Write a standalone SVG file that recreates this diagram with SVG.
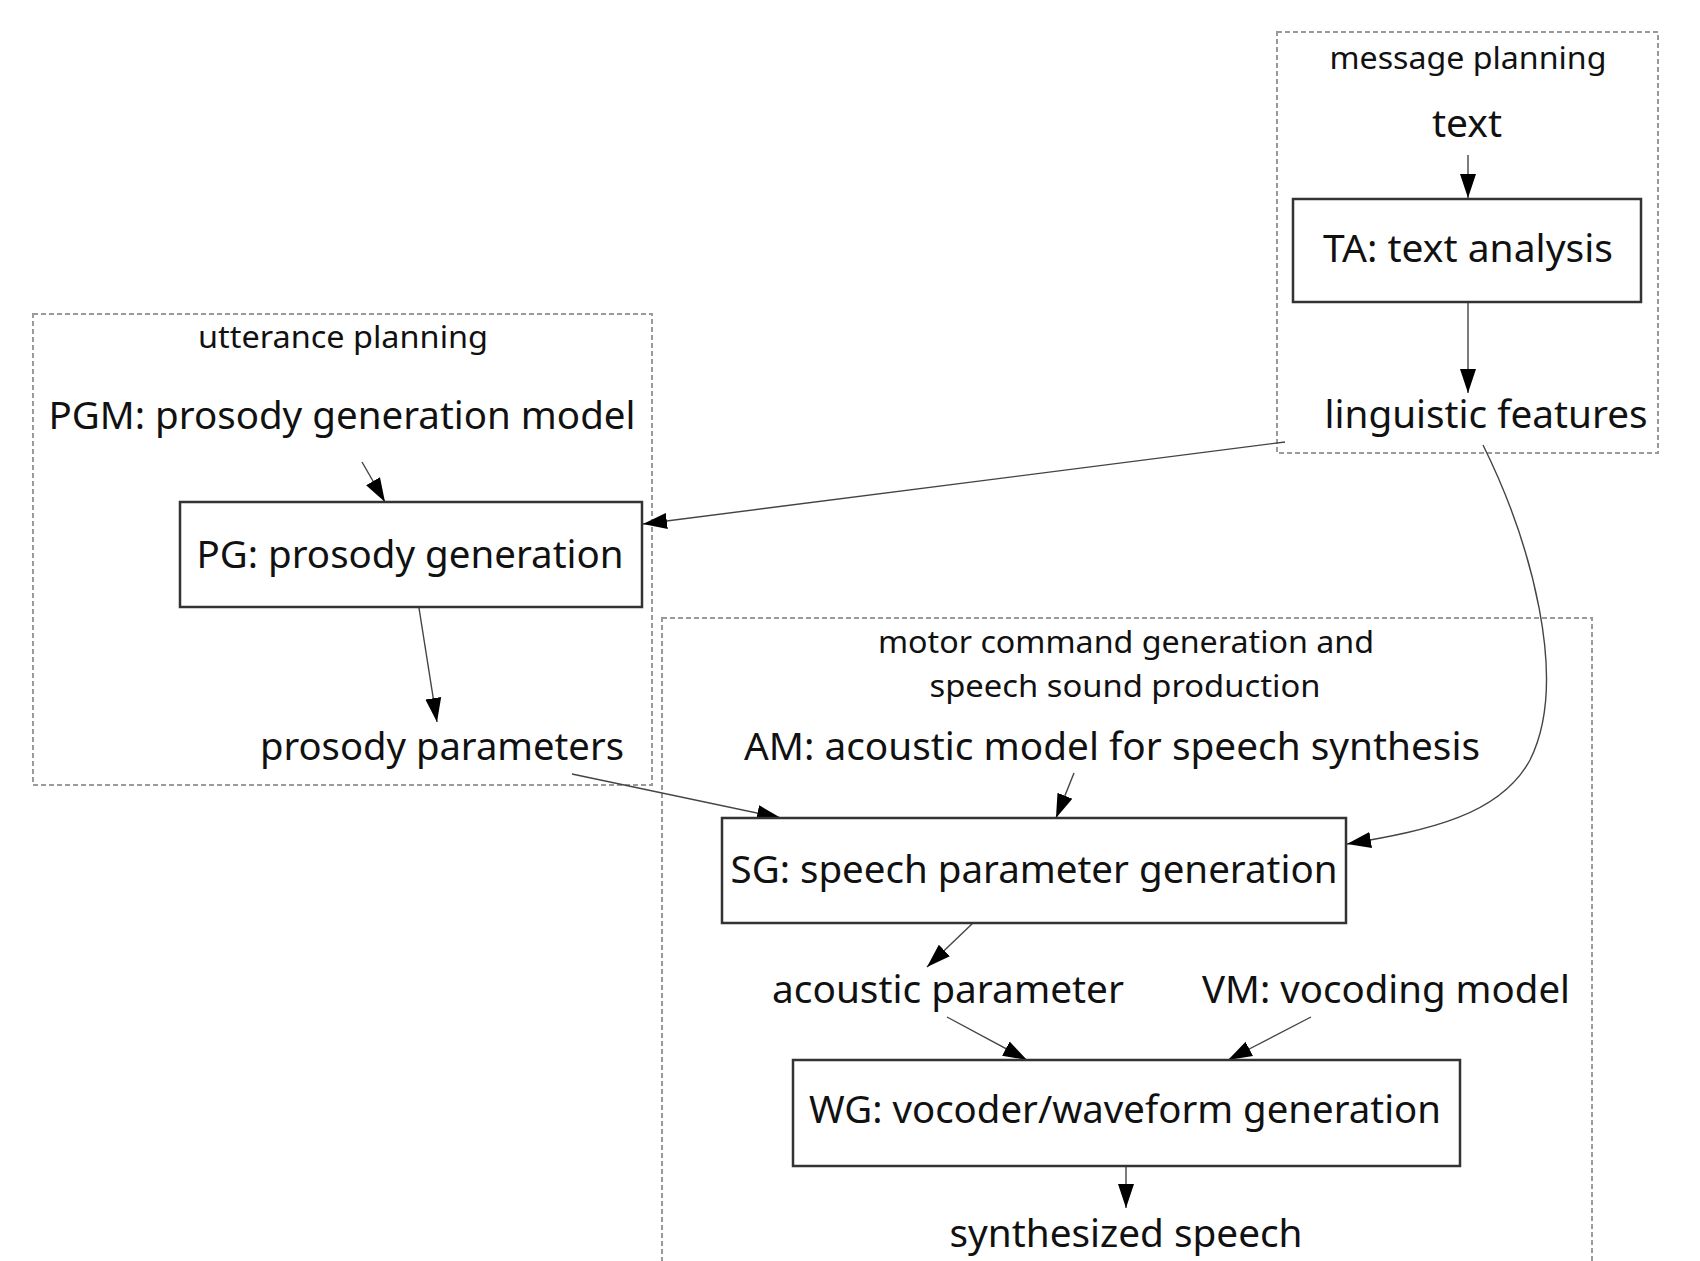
<svg xmlns="http://www.w3.org/2000/svg" width="1700" height="1261" viewBox="0 0 1700 1261">
<style>
.cl{fill:none;stroke:#9a9a9a;stroke-width:2;stroke-dasharray:5,3}
.box{fill:#fff;stroke:#333;stroke-width:2.5}
.t{font-family:"Noto Sans","Liberation Sans",sans-serif;font-size:39px;fill:#111;text-anchor:middle}
.ct{font-family:"Noto Sans","Liberation Sans",sans-serif;font-size:31px;fill:#111;text-anchor:middle}
.e{fill:none;stroke:#444;stroke-width:1.4;marker-end:url(#ah)}
</style>
<defs>
<marker id="ah" markerUnits="userSpaceOnUse" markerWidth="26" markerHeight="20" viewBox="0 -10 26 20" refX="24" refY="0" orient="auto">
<path d="M0,-8 L24,0 L0,8 z" fill="#000"/>
</marker>
</defs>
<rect width="1700" height="1261" fill="#fff"/>
<g id="clusters">
<g id="cluster-message"><rect class="cl" x="1277" y="32" width="381" height="421"/><text class="ct" x="1468" y="69" textLength="277" lengthAdjust="spacingAndGlyphs">message planning</text></g>
<g id="cluster-utterance"><rect class="cl" x="33" y="314" width="619" height="471"/><text class="ct" x="343" y="348" textLength="290" lengthAdjust="spacingAndGlyphs">utterance planning</text></g>
<g id="cluster-motor"><rect class="cl" x="662" y="618" width="930" height="660"/><text class="ct" x="1126" y="653" textLength="496" lengthAdjust="spacingAndGlyphs">motor command generation and</text><text class="ct" x="1125" y="697" textLength="391" lengthAdjust="spacingAndGlyphs">speech sound production</text></g>
</g>
<g id="connectors">
<path class="e" d="M1468,155 L1468,198"/>
<path class="e" d="M1468,302 L1468,393"/>
<path class="e" d="M1285,442 L643,524"/>
<path class="e" d="M362,462 L385,502"/>
<path class="e" d="M419,608 L437,722"/>
<path class="e" d="M572,774 L781,818"/>
<path class="e" d="M1074,773 L1056,818"/>
<path class="e" d="M1483,445 C1530,540 1570,680 1530,760 C1500,815 1430,830 1347,844"/>
<path class="e" d="M973,923 L927,967"/>
<path class="e" d="M947,1017 L1027,1060"/>
<path class="e" d="M1311,1017 L1228,1060"/>
<path class="e" d="M1126,1166 L1126,1208"/>
</g>
<g id="n-text"><text class="t" x="1467" y="137">text</text></g>
<g id="n-TA"><rect class="box" x="1293" y="199" width="348" height="103"/><text class="t" x="1468" y="262" textLength="290" lengthAdjust="spacingAndGlyphs">TA: text analysis</text></g>
<g id="n-ling"><text class="t" x="1486" y="428" textLength="323" lengthAdjust="spacingAndGlyphs">linguistic features</text></g>
<g id="n-PGM"><text class="t" x="342" y="429" textLength="587" lengthAdjust="spacingAndGlyphs">PGM: prosody generation model</text></g>
<g id="n-PG"><rect class="box" x="180" y="502" width="462" height="105"/><text class="t" x="410" y="568" textLength="427" lengthAdjust="spacingAndGlyphs">PG: prosody generation</text></g>
<g id="n-pp"><text class="t" x="442" y="760" textLength="364" lengthAdjust="spacingAndGlyphs">prosody parameters</text></g>
<g id="n-AM"><text class="t" x="1112" y="760" textLength="736" lengthAdjust="spacingAndGlyphs">AM: acoustic model for speech synthesis</text></g>
<g id="n-SG"><rect class="box" x="722" y="818" width="624" height="105"/><text class="t" x="1034" y="883" textLength="607" lengthAdjust="spacingAndGlyphs">SG: speech parameter generation</text></g>
<g id="n-ap"><text class="t" x="948" y="1003" textLength="352" lengthAdjust="spacingAndGlyphs">acoustic parameter</text></g>
<g id="n-VM"><text class="t" x="1386" y="1003" textLength="368" lengthAdjust="spacingAndGlyphs">VM: vocoding model</text></g>
<g id="n-WG"><rect class="box" x="793" y="1060" width="667" height="106"/><text class="t" x="1125" y="1123" textLength="632" lengthAdjust="spacingAndGlyphs">WG: vocoder/waveform generation</text></g>
<g id="n-ss"><text class="t" x="1126" y="1247" textLength="353" lengthAdjust="spacingAndGlyphs">synthesized speech</text></g>
</svg>
